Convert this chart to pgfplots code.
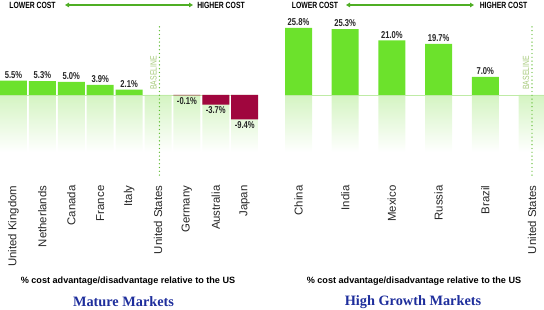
\documentclass[border=0pt]{standalone}
\usepackage{pgfplots}
\pgfplotsset{compat=1.18}
\usepackage{fontspec}
\setmainfont{Liberation Sans}
\newfontfamily\cond[FakeStretch=0.76]{Liberation Sans}
\newfontfamily\serifb{Liberation Serif}
\usetikzlibrary{arrows.meta}
\definecolor{bargreen}{HTML}{6CE22C}
\definecolor{barred}{HTML}{A0063E}
\definecolor{fadegreen}{HTML}{D4F4C2}
\definecolor{zerogreen}{HTML}{BFEBA6}
\definecolor{arrowgreen}{HTML}{4FAE24}
\definecolor{dotgreen}{HTML}{5DBB2E}
\definecolor{baselinegreen}{HTML}{A6C97A}
\definecolor{titleblue}{HTML}{1E2E9C}
\pgfplotsset{
  panel/.style={
    x=#1, y=2.6pt,
    ymin=-33.5, ymax=28,
    clip=false,
    axis line style={draw=none},
    major tick length=0pt,
    ytick=\empty,
    xtick=data,
    xticklabel style={rotate=90, anchor=east, font=\fontsize{11.4}{12}\selectfont, text=black!85},
    ybar, bar width=27pt, bar shift=0pt,
    /pgf/number format/assume math mode=true,
  },
  vals/.style={
    draw=none, fill=#1,
    nodes near coords={\pgfmathprintnumber[fixed,fixed zerofill,precision=1,assume math mode=true]{\pgfplotspointmeta}\%},
    nodes near coords align={vertical},
    every node near coord/.append style={font=\cond\bfseries\fontsize{10}{10}\selectfont, text=black!85, inner sep=2pt},
  },
  fade/.style={draw=none, top color=fadegreen, bottom color=white, forget plot},
}
\begin{document}
\begin{tikzpicture}
\useasboundingbox (0,0) rectangle (544pt,-310pt);
% top arrows
\node[font=\cond\bfseries\fontsize{9}{9}\selectfont] at (32.5pt,-5pt) {LOWER COST};
\draw[{Triangle[length=4pt,width=4.5pt]}-{Triangle[length=4pt,width=4.5pt]}, arrowgreen, line width=1.2pt] (65pt,-5pt) -- (193pt,-5pt);
\node[font=\cond\bfseries\fontsize{9}{9}\selectfont] at (221pt,-5pt) {HIGHER COST};
\node[font=\cond\bfseries\fontsize{9}{9}\selectfont] at (315pt,-5pt) {LOWER COST};
\draw[{Triangle[length=4pt,width=4.5pt]}-{Triangle[length=4pt,width=4.5pt]}, arrowgreen, line width=1.2pt] (346pt,-5pt) -- (474pt,-5pt);
\node[font=\cond\bfseries\fontsize{9}{9}\selectfont] at (503.5pt,-5pt) {HIGHER COST};

% Left panel: mature markets
\begin{axis}[panel=28.9pt, anchor=origin, at={(13.5pt,-95pt)},
  xmin=-0.47, xmax=8.47,
  xticklabels={United Kingdom,Netherlands,Canada,France,Italy,United States,Germany,Australia,Japan}]
\addplot[fade] coordinates {(0,-22) (1,-22) (2,-22) (3,-22) (4,-22) (5,-22) (6,-22) (7,-22) (8,-22)};
\draw[zerogreen, line width=0.8pt] (axis cs:-0.47,0) -- (axis cs:8.47,0);
\addplot[vals=bargreen] coordinates {(0,5.5) (1,5.3) (2,5.0) (3,3.9) (4,2.1)};
\addplot[vals=barred] coordinates {(6,-0.1) (7,-3.7) (8,-9.4)};
\draw[draw=dotgreen, line width=1.4pt, line cap=round, dash pattern=on 0pt off 3.8pt] (axis cs:5.05,26.2) -- (axis cs:5.05,-31);
\node[rotate=90, font=\cond\fontsize{9}{9}\selectfont, text=baselinegreen, anchor=south, inner sep=2.5pt] at (axis cs:5.05,8.5) {BASELINE};
\end{axis}

% Right panel: high growth markets
\begin{axis}[panel=46.7pt, anchor=origin, at={(298.5pt,-95pt)},
  xmin=-0.29, xmax=5.26,
  xticklabels={China,India,Mexico,Russia,Brazil,United States}]
\addplot[fade] coordinates {(0,-22) (1,-22) (2,-22) (3,-22) (4,-22) (5,-22)};
\draw[zerogreen, line width=0.8pt] (axis cs:-0.29,0) -- (axis cs:5.26,0);
\addplot[vals=bargreen] coordinates {(0,25.8) (1,25.3) (2,21.0) (3,19.7) (4,7.0)};
\draw[draw=dotgreen, line width=1.4pt, line cap=round, dash pattern=on 0pt off 3.8pt] (axis cs:5,26.2) -- (axis cs:5,-31);
\node[rotate=90, font=\cond\fontsize{9}{9}\selectfont, text=baselinegreen, anchor=south, inner sep=2.5pt] at (axis cs:5,8.5) {BASELINE};
\end{axis}

% bottom titles
\node[font=\bfseries\fontsize{9.1}{10}\selectfont] at (128pt,-281pt) {\% cost advantage/disadvantage relative to the US};
\node[font=\serifb\bfseries\fontsize{14.3}{15}\selectfont, text=titleblue] at (123.5pt,-302pt) {Mature Markets};
\node[font=\bfseries\fontsize{9.1}{10}\selectfont] at (414pt,-281pt) {\% cost advantage/disadvantage relative to the US};
\node[font=\serifb\bfseries\fontsize{14.3}{15}\selectfont, text=titleblue] at (413pt,-302pt) {High Growth Markets};
\end{tikzpicture}
\end{document}
